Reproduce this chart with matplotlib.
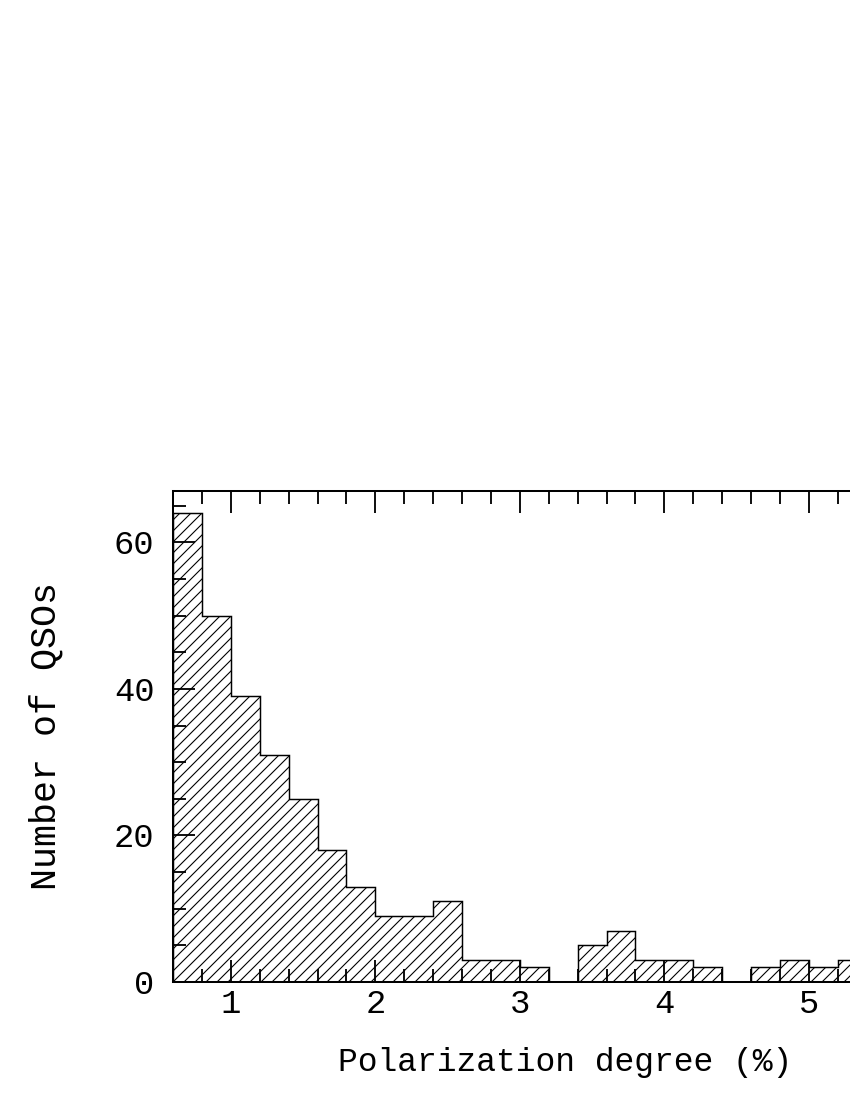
import numpy as np
import matplotlib
matplotlib.use("Agg")
import matplotlib.pyplot as plt
from matplotlib.ticker import MultipleLocator

# histogram of polarization degree, bins of 0.2 %
bin_edges = [0.6, 0.8, 1.0, 1.2, 1.4, 1.6, 1.8, 2.0, 2.2, 2.4, 2.6, 2.8, 3.0,
             3.2, 3.4, 3.6, 3.8, 4.0, 4.2, 4.4, 4.6, 4.8, 5.0, 5.2, 5.4]
counts = [64, 50, 39, 31, 25, 18, 13, 9, 9, 11, 3, 3, 2,
          0, 5, 7, 3, 3, 2, 0, 2, 3, 2, 3]

x_label = "Polarization degree (%)"
y_label = "Number of QSOs"

DPI = 132
plt.rcParams["font.family"] = "Liberation Mono"
plt.rcParams["hatch.linewidth"] = 0.6
plt.rcParams["hatch.color"] = "black"

fig = plt.figure(figsize=(850 / DPI, 1100 / DPI), dpi=DPI)
# axes runs past the right edge of the page, as in the original
ax_w = 766
ax = fig.add_axes([173 / 850, 118 / 1100, ax_w / 850, 491 / 1100])

ax.stairs(counts, bin_edges, fill=True, facecolor="none", edgecolor="black",
          hatch="////", linewidth=0.8)

ax.set_xlim(0.6, 5.9)
ax.set_ylim(0, 67)

ax.xaxis.set_major_locator(MultipleLocator(1))
ax.xaxis.set_minor_locator(MultipleLocator(0.2))
ax.yaxis.set_major_locator(MultipleLocator(20))
ax.yaxis.set_minor_locator(MultipleLocator(5))

ax.tick_params(which="both", direction="in", top=True, right=True,
               width=1.0, colors="black", labelsize=18.5)
ax.tick_params(which="major", length=12)
ax.tick_params(which="minor", length=7)
ax.tick_params(axis="x", which="major", pad=4)
ax.tick_params(axis="y", which="major", pad=10)

for s in ax.spines.values():
    s.set_linewidth(1.1)

ax.set_xlabel(x_label, fontsize=18)
ax.set_ylabel(y_label, fontsize=20)
ax.xaxis.set_label_coords((565 - 173) / ax_w, -(1047 - 982) / 491)
ax.yaxis.set_label_coords((64 - 173) / ax_w, (982 - 736) / 491)

fig.savefig("out.png", dpi=DPI)
